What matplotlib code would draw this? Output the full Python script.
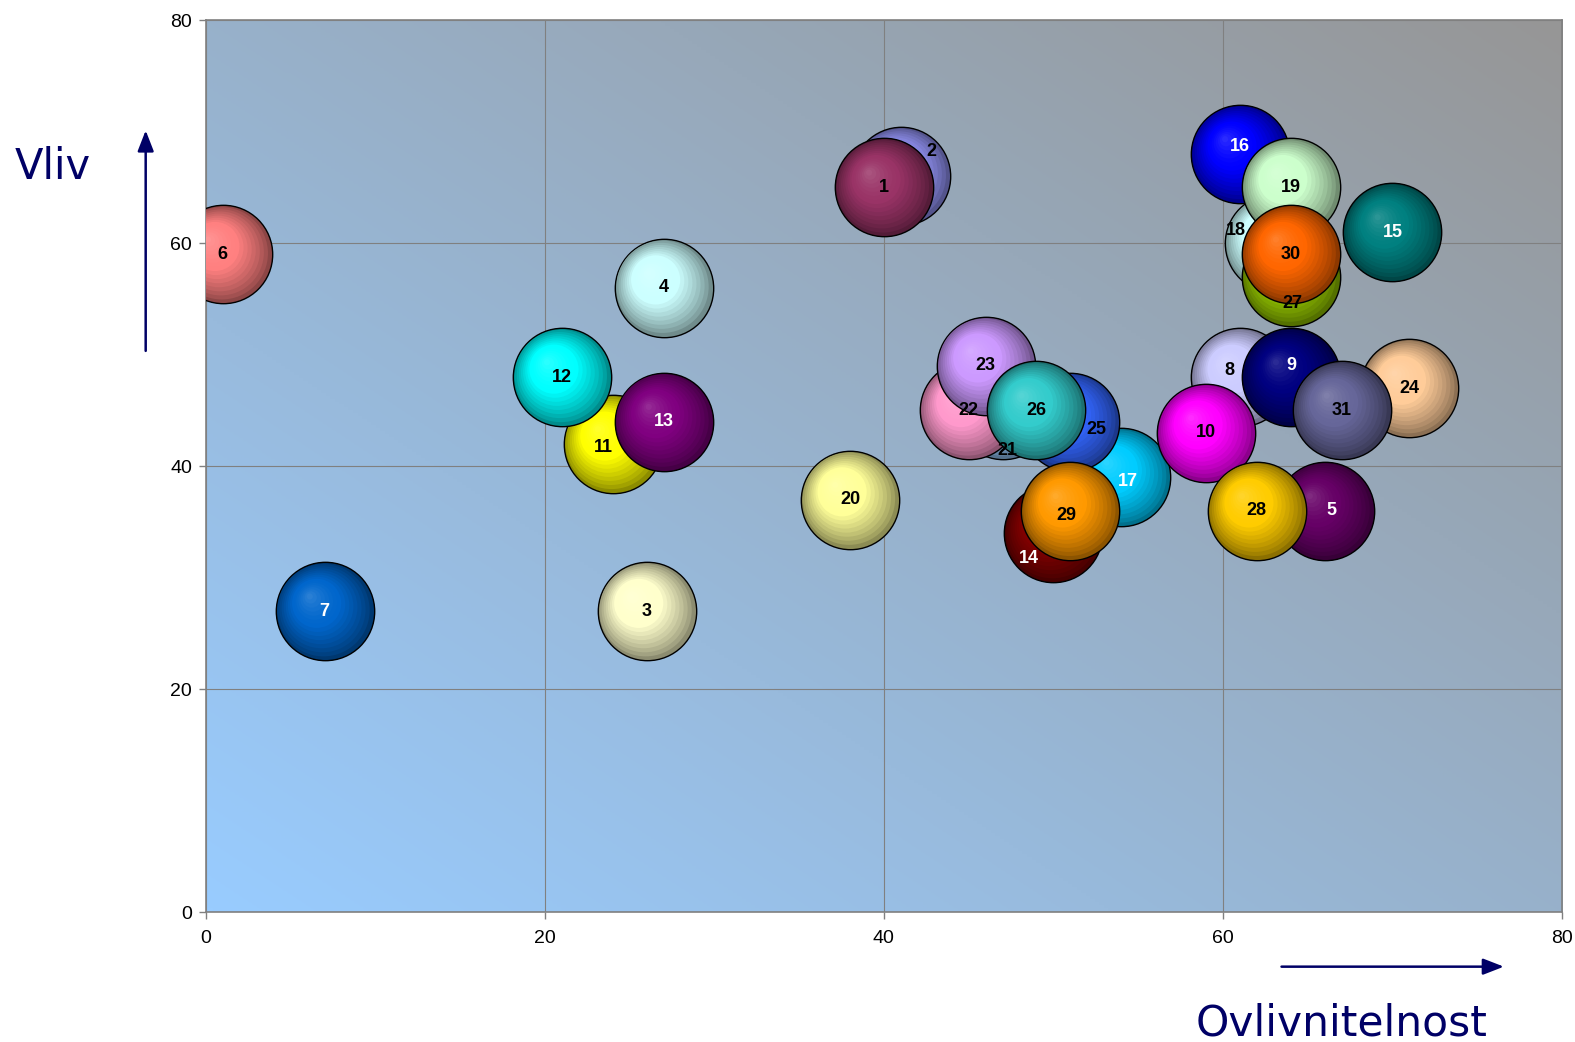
import matplotlib
matplotlib.use("Agg")
import matplotlib.pyplot as plt
import matplotlib.transforms as mtransforms
import numpy as np
from matplotlib.colors import to_rgb, LinearSegmentedColormap

# bubble data: id, influence-ability (x), influence (y)
ids = list(range(1, 32))
x_vals = [40, 41, 26, 27, 66, 1, 7, 61, 64, 59, 24, 21, 27, 50, 70, 61,
          54, 63, 64, 38, 47, 45, 46, 71, 51, 49, 64, 62, 51, 64, 67]
y_vals = [65, 66, 27, 56, 36, 59, 27, 48, 48, 43, 42, 48, 44, 34, 61, 68,
          39, 60, 65, 37, 45, 45, 49, 47, 44, 45, 57, 36, 36, 59, 45]
colors = ['#993366', '#9999FF', '#FFFFCC', '#CCFFFF', '#660066', '#FF8080',
          '#0066CC', '#CCCCFF', '#000080', '#FF00FF', '#FFFF00', '#00FFFF',
          '#800080', '#800000', '#008080', '#0000FF', '#00CCFF', '#CCFFFF',
          '#CCFFCC', '#FFFF99', '#99CCFF', '#FF99CC', '#CC99FF', '#FFCC99',
          '#3366FF', '#33CCCC', '#99CC00', '#FFCC00', '#FF9900', '#FF6600',
          '#666699']
white_labels = {5, 7, 9, 13, 14, 15, 16, 17}

# label nudges in pixels (x right, y down), as placed in the original
label_nudge = {2: (31, -25), 5: (7, 0), 8: (-10, -7), 9: (1, -12), 11: (-9, 4),
               14: (-25, 25), 16: (0, -7), 17: (7, 4), 18: (-38, -13),
               21: (5, 40), 25: (26, 8), 27: (2, 27), 29: (-4, 5)}

# stacking order (later = on top)
draw_order = [2, 3, 4, 5, 6, 7, 8, 9, 11, 12, 13, 14, 15, 16, 17, 10, 18, 19,
              20, 21, 22, 23, 24, 25, 26, 27, 28, 29, 30, 31, 1]

DPI = 100
fig = plt.figure(figsize=(15.75, 10.42), dpi=DPI)
ax = fig.add_axes([0.1307, 0.1244, 0.861, 0.8563])

# background gradient: light blue bottom-left -> gray top-right
grad_cmap = LinearSegmentedColormap.from_list('bg', ['#99CCFF', '#969696'])
u, v = np.meshgrid(np.linspace(0, 1, 300), np.linspace(0, 1, 300))
ax.imshow((u + v) / 2, cmap=grad_cmap, extent=(0, 80, 0, 80), origin='lower',
          aspect='auto', zorder=0, interpolation='bilinear')

ax.set_xlim(0, 80)
ax.set_ylim(0, 80)
ax.set_xticks([0, 20, 40, 60, 80])
ax.set_yticks([0, 20, 40, 60, 80])
ax.grid(True, color='#808080', linewidth=0.8)
ax.set_axisbelow(True)
for s in ax.spines.values():
    s.set_color('#808080')
    s.set_linewidth(1.2)
ax.tick_params(colors='#808080', labelcolor='black', length=5, width=1,
               labelsize=14)
ax.tick_params(axis='x', pad=8)
ax.tick_params(axis='y', pad=5)
for lab in ax.get_xticklabels() + ax.get_yticklabels():
    lab.set_fontfamily('Liberation Sans')

# bubbles drawn as stacked discs to mimic the 3D sphere fill
R_px = 49.2
size = (2 * R_px * 72 / DPI) ** 2
n_layers = 16
hl = np.array([-0.32, 0.32])  # highlight direction (fraction of radius)

for k, bid in enumerate(draw_order):
    i = bid - 1
    base = np.array(to_rgb(colors[i]))
    dark = base * 0.55
    light = base + (1 - base) * 0.2
    z = 2 + k
    for j in range(n_layers):
        f = 1 - j / n_layers
        t = 1 - f
        if t < 0.5:
            col = dark + (base - dark) * (t / 0.5) ** 0.8
        else:
            col = base + (light - base) * ((t - 0.5) / 0.5) ** 1.5
        col = np.clip(col, 0, 1)
        dx, dy = hl * (1 - f) * R_px / DPI
        off = mtransforms.ScaledTranslation(dx, dy, fig.dpi_scale_trans)
        ax.scatter([x_vals[i]], [y_vals[i]], s=size * f * f, color=col,
                   edgecolors='black' if j == 0 else 'none',
                   linewidths=1.0 if j == 0 else 0,
                   transform=ax.transData + off, zorder=z + j * 0.01)

for i, bid in enumerate(ids):
    nx, ny = label_nudge.get(bid, (0, 0))
    ax.annotate(str(bid), (x_vals[i], y_vals[i]),
                xytext=(nx * 0.72, -ny * 0.72), textcoords='offset points',
                ha='center', va='center', fontsize=13, fontweight='bold',
                fontfamily='Liberation Sans',
                color='white' if bid in white_labels else 'black', zorder=100)

# axis titles with arrows
navy = '#000066'
fig.text(0.009, 0.828, 'Vliv', fontsize=30, color=navy, va='baseline')
fig.text(0.759, 0.006, 'Ovlivnitelnost', fontsize=30.5, color=navy, va='baseline')
arrow = dict(arrowstyle='-|>,head_length=0.9,head_width=0.35', color=navy, lw=1.8)
fig.add_artist(matplotlib.patches.FancyArrowPatch(
    (0.0925, 0.6606), (0.0925, 0.8775), transform=fig.transFigure,
    mutation_scale=14, **arrow))
fig.add_artist(matplotlib.patches.FancyArrowPatch(
    (0.8119, 0.0723), (0.9566, 0.0723), transform=fig.transFigure,
    mutation_scale=14, **arrow))

fig.savefig('out.png', dpi=DPI)
